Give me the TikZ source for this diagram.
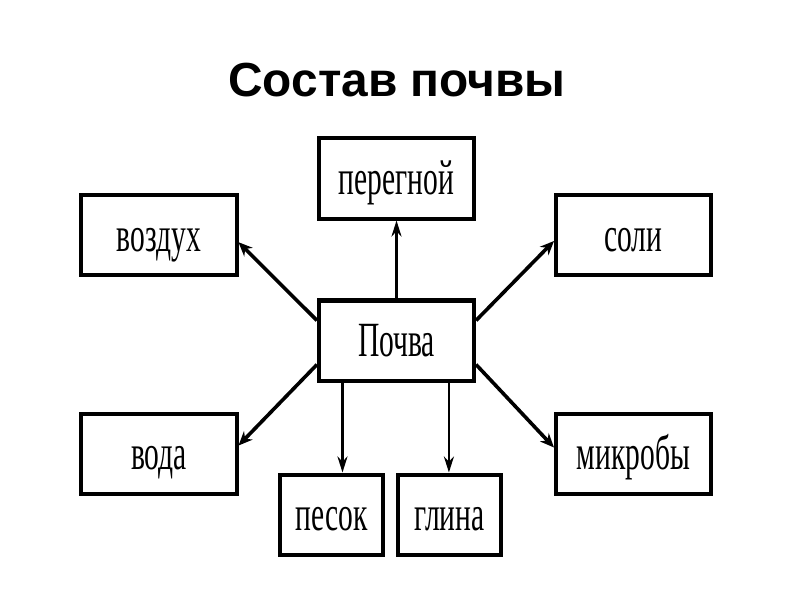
\documentclass[tikz,border=0pt]{standalone}
\usepackage{fontspec}
\usetikzlibrary{arrows.meta, positioning}
\newfontfamily\boxfont[FakeStretch=0.6]{Liberation Serif}
\newfontfamily\titlefont{Liberation Sans}

\begin{document}
\begin{tikzpicture}[
    x=0.025cm, y=-0.025cm,
    box/.style={rectangle,draw,line width=0.1cm,minimum width=3.875cm,minimum height=2cm,
        font=\boxfont\fontsize{35}{40}\selectfont,text height=23pt,text depth=0pt},
    narrow/.style={box,minimum width=2.55cm},
    arr/.style={line width=0.09cm,-{Stealth[length=0.35cm,width=0.3cm]}},
    down/.style={line width=0.065cm,-{Stealth[length=0.4cm,width=0.25cm]}}
    ]
    \useasboundingbox (0,0) rectangle (800,600);
    % Title
    \node[font=\titlefont\bfseries\fontsize{34}{40}\selectfont,anchor=base] (title) at (397,96) {Состав почвы};
    
    % Nodes
    \node[box] (pochva) at (396.5,340.5) {Почва};
    \node[box] (peregnoy) at (396.5,178.5) {перегной};
    \node[box] (vozdukh) at (159,235) {воздух};
    \node[box] (soli) at (633.5,235) {соли};
    \node[box] (voda) at (159,453.5) {вода};
    \node[box] (mikroby) at (633.5,453.5) {микробы};
    \node[narrow] (pesok) at (331.5,514.5) {песок};
    \node[narrow] (glina) at (449.5,514.5) {глина};
    
    % Arrows out of the centre box
    \draw[down] (pochva.north) -- (peregnoy.south);
    \draw[arr] ([yshift=0.5cm]pochva.west) -- ([yshift=-0.18cm]vozdukh.east);
    \draw[arr] ([yshift=0.5cm]pochva.east) -- ([yshift=-0.15cm]soli.west);
    \draw[arr] ([yshift=-0.6cm]pochva.west) -- ([yshift=0.2cm]voda.east);
    \draw[arr] ([yshift=-0.6cm]pochva.east) -- ([yshift=0.15cm]mikroby.west);
    
    % Arrows down
    \draw[down] ([xshift=-1.35cm]pochva.south) -- ([xshift=-1.35cm]pochva.south |- pesok.north);
    \draw[down] ([xshift=1.31cm]pochva.south) -- ([xshift=1.31cm]pochva.south |- glina.north);
\end{tikzpicture}
\end{document}
